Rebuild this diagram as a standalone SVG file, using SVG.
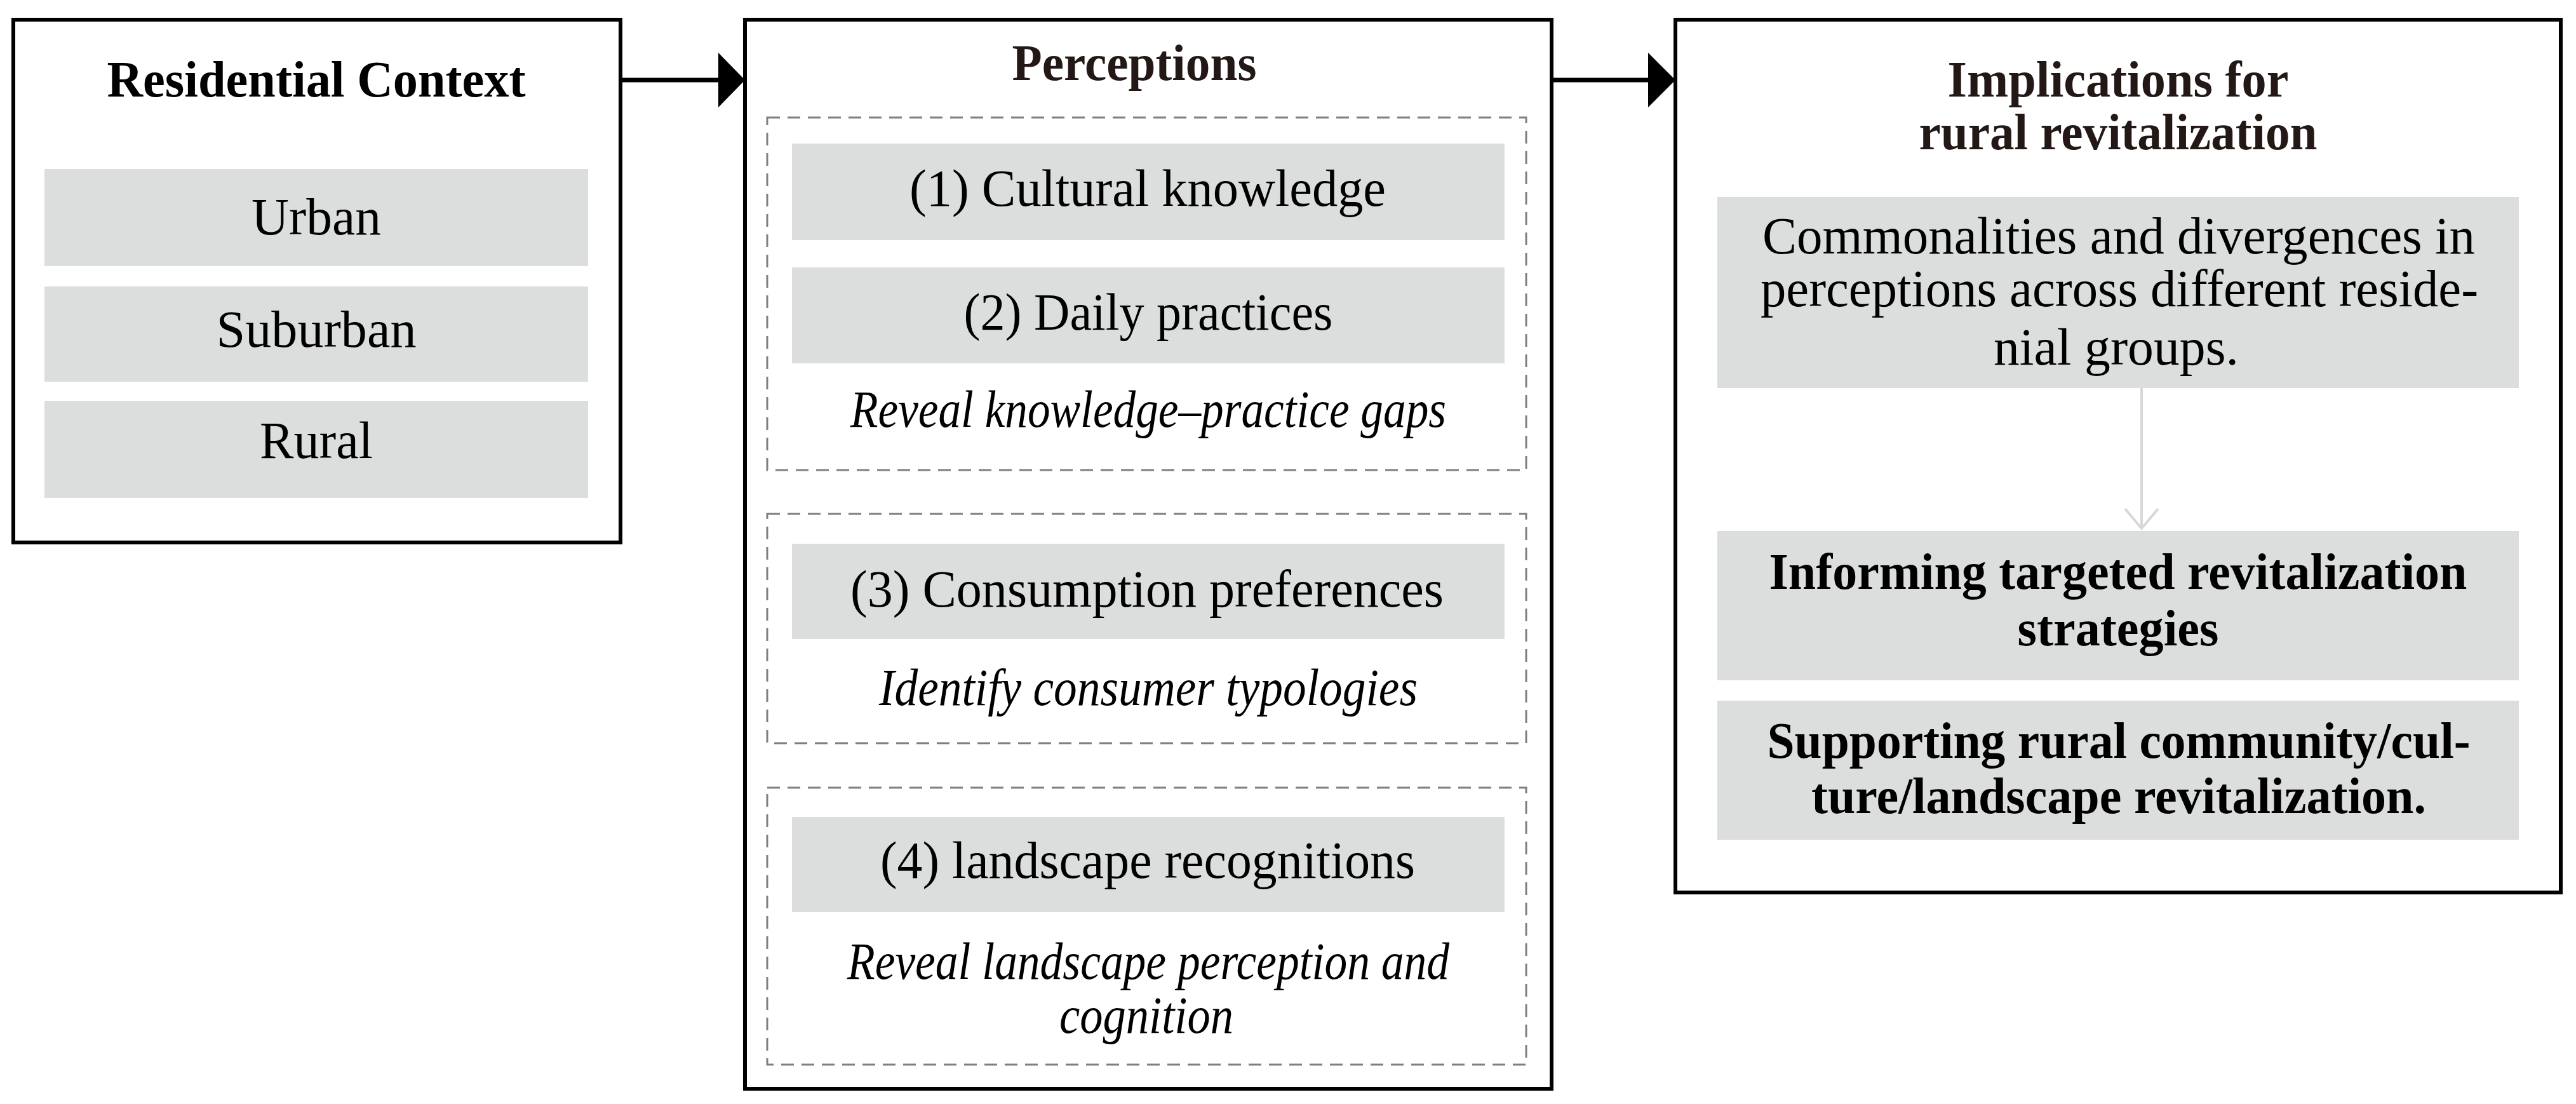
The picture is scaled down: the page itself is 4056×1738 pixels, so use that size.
<svg xmlns="http://www.w3.org/2000/svg" width="4056" height="1738" viewBox="0 0 4056 1738">
<style>
.frame{fill:#ffffff;stroke:#000000;stroke-width:6}
.dash{fill:none;stroke:#7f7f7f;stroke-width:3;stroke-dasharray:20 12}
.cell{fill:#dcdedd}
.t{font-family:"Liberation Serif","Times New Roman",serif;fill:#000000;text-anchor:middle}
.reg{font-size:82px}
.bold{font-size:80px;font-weight:bold}
.ttl{font-size:80px;font-weight:bold;fill:#231815}
.it{font-size:82px;font-style:italic}
.conn{stroke:#000000;stroke-width:7;fill:none}
</style>
<rect width="4056" height="1738" fill="#ffffff"/>
<g id="residential-context">
<rect class="frame" x="21" y="31" width="956" height="823"/>
<text class="t ttl" x="498" y="152" textLength="659" lengthAdjust="spacingAndGlyphs" style="fill:#000">Residential Context</text>
<rect class="cell" x="70" y="266" width="856" height="153"/>
<text class="t reg" x="498" y="369" textLength="204" lengthAdjust="spacingAndGlyphs">Urban</text>
<rect class="cell" x="70" y="451" width="856" height="150"/>
<text class="t reg" x="498" y="546" textLength="315" lengthAdjust="spacingAndGlyphs">Suburban</text>
<rect class="cell" x="70" y="631" width="856" height="153"/>
<text class="t reg" x="498" y="721" textLength="178" lengthAdjust="spacingAndGlyphs">Rural</text>
</g>
<g id="perceptions">
<rect class="frame" x="1173" y="31" width="1270" height="1683"/>
<text class="t ttl" x="1786" y="126" textLength="385" lengthAdjust="spacingAndGlyphs">Perceptions</text>
<g id="group-knowledge-practice">
<rect class="dash" x="1208" y="185" width="1195" height="555"/>
<rect class="cell" x="1247" y="226" width="1122" height="152"/>
<text class="t reg" x="1807" y="324" textLength="750" lengthAdjust="spacingAndGlyphs">(1) Cultural knowledge</text>
<rect class="cell" x="1247" y="421" width="1122" height="151"/>
<text class="t reg" x="1808" y="519" textLength="581" lengthAdjust="spacingAndGlyphs">(2) Daily practices</text>
<text class="t it" x="1808" y="672" textLength="938" lengthAdjust="spacingAndGlyphs">Reveal knowledge–practice gaps</text>
</g>
<g id="group-consumption">
<rect class="dash" x="1208" y="809" width="1195" height="361"/>
<rect class="cell" x="1247" y="856" width="1122" height="150"/>
<text class="t reg" x="1806" y="955" textLength="934" lengthAdjust="spacingAndGlyphs">(3) Consumption preferences</text>
<text class="t it" x="1808" y="1110" textLength="848" lengthAdjust="spacingAndGlyphs">Identify consumer typologies</text>
</g>
<g id="group-landscape">
<rect class="dash" x="1208" y="1240" width="1195" height="436"/>
<rect class="cell" x="1247" y="1286" width="1122" height="150"/>
<text class="t reg" x="1807" y="1382" textLength="842" lengthAdjust="spacingAndGlyphs">(4) landscape recognitions</text>
<text class="t it" x="1808" y="1541" textLength="948" lengthAdjust="spacingAndGlyphs">Reveal landscape perception and</text>
<text class="t it" x="1805" y="1626" textLength="274" lengthAdjust="spacingAndGlyphs">cognition</text>
</g>
</g>
<g id="implications">
<rect class="frame" x="2638" y="31" width="1394" height="1374"/>
<text class="t ttl" x="3335" y="152" textLength="537" lengthAdjust="spacingAndGlyphs">Implications for</text>
<text class="t ttl" x="3335" y="235" textLength="627" lengthAdjust="spacingAndGlyphs">rural revitalization</text>
<rect class="cell" x="2704" y="310" width="1262" height="301"/>
<text class="t reg" x="3336" y="399" textLength="1122" lengthAdjust="spacingAndGlyphs">Commonalities and divergences in</text>
<text class="t reg" x="3337" y="482" textLength="1130" lengthAdjust="spacingAndGlyphs">perceptions across different reside-</text>
<text class="t reg" x="3332" y="574" textLength="386" lengthAdjust="spacingAndGlyphs">nial groups.</text>
<rect class="cell" x="2704" y="836" width="1262" height="235"/>
<text class="t bold" x="3335" y="927" textLength="1099" lengthAdjust="spacingAndGlyphs">Informing targeted revitalization</text>
<text class="t bold" x="3335" y="1016" textLength="317" lengthAdjust="spacingAndGlyphs">strategies</text>
<rect class="cell" x="2704" y="1103" width="1262" height="219"/>
<text class="t bold" x="3336" y="1193" textLength="1107" lengthAdjust="spacingAndGlyphs">Supporting rural community/cul-</text>
<text class="t bold" x="3336" y="1280" textLength="968" lengthAdjust="spacingAndGlyphs">ture/landscape revitalization.</text>
</g>
<g id="connectors">
<line class="conn" x1="977" y1="126" x2="1133" y2="126"/>
<polygon points="1131,83 1173,126 1131,169" fill="#000000"/>
<line class="conn" x1="2443" y1="126" x2="2597" y2="126"/>
<polygon points="2595,83 2638,126 2595,169" fill="#000000"/>
<line x1="3372" y1="611" x2="3372" y2="831" stroke="#d6d8d7" stroke-width="4"/>
<polyline points="3346,801 3372,832 3398,801" fill="none" stroke="#d6d8d7" stroke-width="4"/>
</g>
</svg>
